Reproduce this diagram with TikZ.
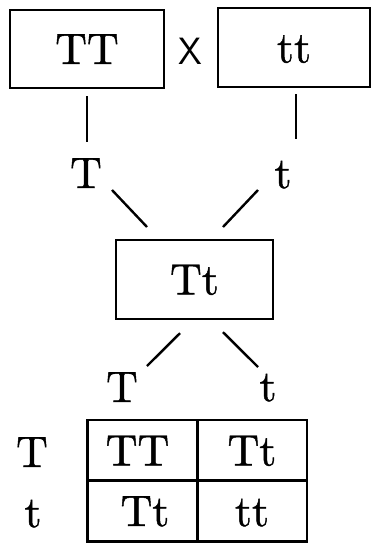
\documentclass[tikz,border=0pt]{standalone}
\usepackage{fontspec}
\usepackage{tikz}
\usetikzlibrary{positioning}

\newfontfamily\genefont{lmroman10-regular.otf}[FakeBold=1]

\begin{document}
\begin{tikzpicture}[
x=1pt, y=-1pt,
line width=2.4pt,
gbox/.style={
draw,
inner sep=0pt,
text height=30pt,
text depth=0pt,
font=\genefont\fontsize{44}{48}\selectfont
},
gamete/.style={
inner sep=15pt,
text height=30pt,
text depth=0pt,
font=\genefont\fontsize{44}{48}\selectfont
},
cell/.style={
gbox,
minimum width=110pt,
minimum height=61pt
}
]
\useasboundingbox (0,0) rectangle (373,544);

% parents
\node[gbox, minimum width=154pt, minimum height=78pt] (TT) at (87,49) {TT};
\node[gbox, minimum width=152pt, minimum height=79pt] (tt) at (294,47.5) {tt};
\node[font=\sffamily\fontsize{38}{40}\selectfont] (cross) at (190,51) {X};

% gametes of the parents
\node[gamete] (gT) at (86,173) {T};
\node[gamete] (gt) at (283,173) {t};

\draw[shorten <=7pt] (TT.south) -- (TT.south |- gT.north);
\draw[shorten <=6pt, shorten >=3pt] ([xshift=2pt]tt.south) -- ([xshift=2pt]tt.south |- gt.north);

% F1
\node[gbox, minimum width=157pt, minimum height=79pt] (F1) at (194.5,279.5) {Tt};

\draw ([shift={(26,17)}]gT.center) -- ([shift={(-47.5,-52.5)}]F1.center);
\draw ([shift={(-25,17)}]gt.center) -- ([shift={(28.5,-52.5)}]F1.center);

% gametes of F1
\node[gamete] (fT) at (122,387) {T};
\node[gamete] (ft) at (268,386) {t};

\draw ([shift={(-14.5,13)}]F1.south) -- ([shift={(25,-21)}]fT.center);
\draw ([shift={(28.5,12)}]F1.south) -- ([shift={(-10,-19)}]ft.center);

% checkerboard
\node[cell] (c11) at (142.5,450.5) {TT\hspace*{10pt}};
\node[cell] (c12) at (252,450.5) {Tt};
\node[cell] (c21) at (142.5,511) {\hspace*{5pt}Tt};
\node[cell] (c22) at (252,511) {tt};

\node[gamete] (rT) at (32,452) {T};
\node[gamete] (rt) at (33,512) {t};

\end{tikzpicture}
\end{document}
